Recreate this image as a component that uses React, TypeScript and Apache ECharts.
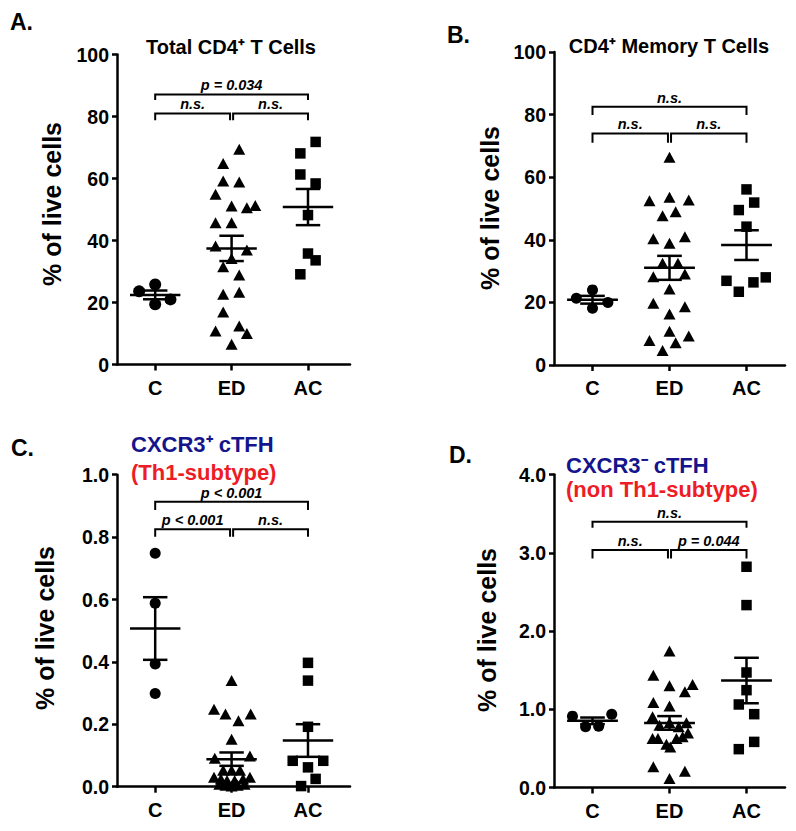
import React, { useEffect, useRef } from "react";
import * as echarts from "echarts";

const FONT = '"Liberation Sans", Arial, Helvetica, sans-serif';
const CATEGORIES = ["C", "ED", "AC"];

// ---- Panel A: Total CD4+ T cells (% of live cells)
const A_C = [23.6, 25.8, 21.0, 19.4];
const A_C_JIT = [-0.21, 0, 0.2, 0];
const A_ED = [69.4, 64.8, 59.2, 58.9, 54.9, 51.1, 50.6, 51.3, 45.7, 45.7, 38.2, 36.9, 34.2, 31.5, 28.9, 22.7, 23.3, 16.9, 10.8, 12.4, 10.0, 6.5];
const A_ED_JIT = [0.1, -0.11, -0.11, 0.1, -0.21, 0, 0.2, 0.31, -0.21, 0, -0.21, 0.2, 0, -0.11, 0.1, -0.11, 0.1, -0.11, -0.21, 0.1, 0.2, 0];
const A_AC = [71.8, 68.1, 61.3, 58.4, 48.2, 35.8, 33.6, 29.1];
const A_AC_JIT = [0.1, -0.1, -0.1, 0.1, 0, 0, 0.1, -0.1];
const A_BRACKETS = [[0, 2, 87.1, 85.3], [0, 0.98, 81.0, 78.8], [1.02, 2, 81.0, 78.8]];
const A_BRACKET_LABELS = ["p = 0.034", "n.s.", "n.s."];

// ---- Panel B: CD4+ memory T cells
const B_C = [21.3, 24.0, 20.0, 18.1];
const B_C_JIT = [-0.21, 0, 0.2, 0];
const B_ED = [66.4, 52.5, 53.6, 52.7, 47.7, 49.0, 40.3, 38.9, 41.0, 32.5, 32.5, 28.2, 29.1, 24.3, 19.7, 18.6, 16.3, 10.8, 7.8, 9.3, 7.1, 4.6];
const B_ED_JIT = [0, -0.26, 0, 0.25, -0.09, 0.08, -0.21, 0, 0.2, -0.09, 0.11, -0.21, 0.2, 0, -0.21, 0.2, 0, 0, -0.26, 0.25, 0.08, -0.09];
const B_AC = [56.1, 51.9, 49.5, 44.2, 26.9, 23.4, 26.4, 28.0];
const B_AC_JIT = [0, 0.1, -0.1, 0, -0.26, -0.1, 0.09, 0.25];
const B_BRACKETS = [[0, 2, 82.5, 79.9], [0, 0.98, 74.0, 71.0], [1.02, 2, 74.0, 71.0]];
const B_BRACKET_LABELS = ["n.s.", "n.s.", "n.s."];

// ---- Panel C: CXCR3+ cTFH (Th1-subtype)
const C_C = [0.748, 0.588, 0.393, 0.299];
const C_C_JIT = [0, 0, 0, 0];
const C_ED = [0.340, 0.248, 0.233, 0.233, 0.211, 0.152, 0.091, 0.098, 0.053, 0.053, 0.053, 0.03, 0.025, 0.02, 0.02, 0.025, 0.03, 0.008, 0.005, 0.002, 0.005, 0.008];
const C_ED_JIT = [0, -0.23, -0.08, 0.25, 0.09, 0, -0.22, 0.24, -0.11, 0, 0.11, -0.23, -0.14, -0.06, 0.04, 0.15, 0.24, -0.16, -0.08, 0, 0.08, 0.17];
const C_AC = [0.397, 0.340, 0.192, 0.083, 0.083, 0.062, 0.025, 0.002];
const C_AC_JIT = [0, 0, 0, -0.2, 0.2, 0, 0.1, -0.09];
const C_BRACKETS = [[0, 2, 0.913, 0.887], [0, 0.98, 0.825, 0.801], [1.02, 2, 0.825, 0.801]];
const C_BRACKET_LABELS = ["p < 0.001", "p < 0.001", "n.s."];

// ---- Panel D: CXCR3- cTFH (non Th1-subtype)
const D_C = [0.912, 0.775, 0.784, 0.937];
const D_C_JIT = [-0.26, -0.09, 0.08, 0.25];
const D_ED = [1.743, 1.436, 1.299, 1.223, 1.317, 1.087, 1.040, 0.903, 0.797, 0.826, 0.775, 0.826, 0.626, 0.626, 0.554, 0.519, 0.626, 0.647, 0.698, 0.264, 0.208, 0.115];
const D_ED_JIT = [0, -0.21, 0, 0.2, 0.3, -0.21, 0, -0.22, -0.13, 0, 0.12, 0.22, -0.22, -0.15, -0.04, 0.01, 0.09, 0.17, 0.24, -0.21, 0.2, 0];
const D_AC = [2.821, 2.331, 1.470, 1.244, 1.061, 0.937, 0.583, 0.490];
const D_AC_JIT = [0, 0, 0, 0, -0.1, 0.1, 0.1, -0.1];
const D_BRACKETS = [[0, 2, 3.396, 3.32], [0, 0.98, 3.035, 2.928], [1.02, 2, 3.035, 2.928]];
const D_BRACKET_LABELS = ["n.s.", "n.s.", "p = 0.044"];

const Y_MAX = [100, 100, 1.0, 4.0];
const Y_INTERVAL = [20, 20, 0.2, 1.0];
const Y_DECIMALS = [0, 0, 1, 1];

const PANELS = [
  { groups: [A_C, A_ED, A_AC], jit: [A_C_JIT, A_ED_JIT, A_AC_JIT], brackets: A_BRACKETS, labels: A_BRACKET_LABELS },
  { groups: [B_C, B_ED, B_AC], jit: [B_C_JIT, B_ED_JIT, B_AC_JIT], brackets: B_BRACKETS, labels: B_BRACKET_LABELS },
  { groups: [C_C, C_ED, C_AC], jit: [C_C_JIT, C_ED_JIT, C_AC_JIT], brackets: C_BRACKETS, labels: C_BRACKET_LABELS },
  { groups: [D_C, D_ED, D_AC], jit: [D_C_JIT, D_ED_JIT, D_AC_JIT], brackets: D_BRACKETS, labels: D_BRACKET_LABELS },
];

const GRIDS = [
  { left: 117, top: 54.5, width: 233, height: 310 },
  { left: 554, top: 52, width: 231, height: 313 },
  { left: 117, top: 474.7, width: 233, height: 312 },
  { left: 554, top: 474.5, width: 231, height: 313 },
];
const X_MAX = [2.55, 2.5, 2.55, 2.5];

const SYMBOLS = ["circle", "triangle", "rect"];
const SYMBOL_SIZES: any[] = [11, [12, 11], 10.5];

function meanSem(vals: number[]) {
  const n = vals.length;
  const m = vals.reduce((a, b) => a + b, 0) / n;
  const sd = Math.sqrt(vals.reduce((a, b) => a + (b - m) * (b - m), 0) / (n - 1));
  return [m, sd / Math.sqrt(n)];
}

function buildOption() {
  const xAxis: any[] = [];
  const yAxis: any[] = [];
  const series: any[] = [];
  const axisLine = { show: true, onZero: false, lineStyle: { color: "#000", width: 2.5 } };
  PANELS.forEach((p, k) => {
    xAxis.push({
      type: "value", gridIndex: k, min: -0.5, max: X_MAX[k],
      axisLine,
      axisTick: { show: true, length: 6, lineStyle: { color: "#000", width: 2.5 }, customValues: [0, 1, 2] },
      axisLabel: {
        customValues: [0, 1, 2], margin: 13,
        formatter: (v: number) => CATEGORIES[Math.round(v)] ?? "",
        color: "#000", fontWeight: "bold", fontSize: 20, fontFamily: FONT,
      },
      splitLine: { show: false },
    });
    yAxis.push({
      type: "value", gridIndex: k, min: 0, max: Y_MAX[k], interval: Y_INTERVAL[k],
      axisLine,
      axisTick: { show: true, length: 5, lineStyle: { color: "#000", width: 2.5 } },
      axisLabel: {
        margin: 8, color: "#000", fontWeight: "bold", fontSize: 19.5, fontFamily: FONT,
        formatter: (v: number) => v.toFixed(Y_DECIMALS[k]),
      },
      splitLine: { show: false },
    });
    p.groups.forEach((vals, g) => {
      series.push({
        type: "scatter", xAxisIndex: k, yAxisIndex: k,
        symbol: SYMBOLS[g], symbolSize: k === 0 && g === 0 ? 12 : SYMBOL_SIZES[g],
        itemStyle: { color: "#000", opacity: 1 },
        data: vals.map((v, i) => [g + p.jit[g][i], v]),
        z: 2,
      });
    });
    series.push({
      type: "custom", xAxisIndex: k, yAxisIndex: k, clip: false, silent: true, z: 3,
      data: p.groups.map((vals, g) => [g, ...meanSem(vals)]),
      renderItem: (_params: any, api: any) => {
        const x = api.value(0), m = api.value(1), s = api.value(2);
        const c = (xx: number, yy: number) => api.coord([xx, yy]);
        const mk = (a: number[], b: number[]) => ({
          type: "line", shape: { x1: a[0], y1: a[1], x2: b[0], y2: b[1] },
          style: { stroke: "#000", lineWidth: 2.5 },
        });
        return {
          type: "group",
          children: [
            mk(c(x - 0.33, m), c(x + 0.33, m)),
            mk(c(x, m - s), c(x, m + s)),
            mk(c(x - 0.16, m + s), c(x + 0.16, m + s)),
            mk(c(x - 0.16, m - s), c(x + 0.16, m - s)),
          ],
        };
      },
    });
    series.push({
      type: "custom", xAxisIndex: k, yAxisIndex: k, clip: false, silent: true, z: 3,
      encode: { x: [0, 1], y: [2, 3] },
      data: p.brackets,
      renderItem: (params: any, api: any) => {
        const x1 = api.value(0), x2 = api.value(1), y = api.value(2), leg = api.value(3);
        const p1 = api.coord([x1, y]);
        const p2 = api.coord([x2, y]);
        const l = api.coord([x1, leg]);
        return {
          type: "group",
          children: [
            {
              type: "polyline",
              shape: { points: [[p1[0], l[1]], [p1[0], p1[1]], [p2[0], p2[1]], [p2[0], l[1]]] },
              style: { stroke: "#000", lineWidth: 2, fill: "none" },
            },
            {
              type: "text",
              style: {
                text: p.labels[params.dataIndex], x: (p1[0] + p2[0]) / 2, y: p1[1] - 1.5,
                align: "center", verticalAlign: "bottom",
                font: `italic bold 14.5px ${FONT}`, fill: "#000",
              },
            },
          ],
        };
      },
    });
  });

  const txt = (text: string, x: number, y: number, font: string, fill = "#000", align = "left", rotation = 0) => ({
    type: "text", x, y, rotation,
    style: { text, font, fill, align, verticalAlign: "middle" },
  });
  const graphic = [
    txt("A.", 10, 22, `bold 23px ${FONT}`),
    txt("B.", 447, 35, `bold 23px ${FONT}`),
    txt("C.", 11, 448, `bold 23px ${FONT}`),
    txt("D.", 449, 455, `bold 23px ${FONT}`),
    txt("Total CD4⁺ T Cells", 231, 47, `bold 20px ${FONT}`, "#000", "center"),
    txt("CD4⁺ Memory T Cells", 669, 46, `bold 20px ${FONT}`, "#000", "center"),
    txt("CXCR3⁺ cTFH", 131, 444, `bold 22px ${FONT}`, "#14148c"),
    txt("(Th1-subtype)", 131, 472, `bold 22px ${FONT}`, "#ee1c25"),
    txt("CXCR3⁻ cTFH", 566, 465, `bold 22px ${FONT}`, "#14148c"),
    txt("(non Th1-subtype)", 566, 489, `bold 22px ${FONT}`, "#ee1c25"),
    txt("% of live cells", 52, 204, `bold 25px ${FONT}`, "#000", "center", Math.PI / 2),
    txt("% of live cells", 490, 208, `bold 25px ${FONT}`, "#000", "center", Math.PI / 2),
    txt("% of live cells", 45, 628, `bold 25px ${FONT}`, "#000", "center", Math.PI / 2),
    txt("% of live cells", 487, 630, `bold 25px ${FONT}`, "#000", "center", Math.PI / 2),
  ];

  return {
    animation: false,
    backgroundColor: "#fff",
    grid: GRIDS.map((g) => ({ ...g, containLabel: false })),
    xAxis,
    yAxis,
    series,
    graphic,
  };
}

export default function App() {
  const ref = useRef<HTMLDivElement>(null);
  useEffect(() => {
    const chart = echarts.init(ref.current!, null, { renderer: "svg" });
    chart.setOption(buildOption() as any);
    return () => chart.dispose();
  }, []);
  return (
    <div
      ref={ref}
      style={{ position: "absolute", left: 0, top: 0, width: 796, height: 831, background: "#fff" }}
    />
  );
}
